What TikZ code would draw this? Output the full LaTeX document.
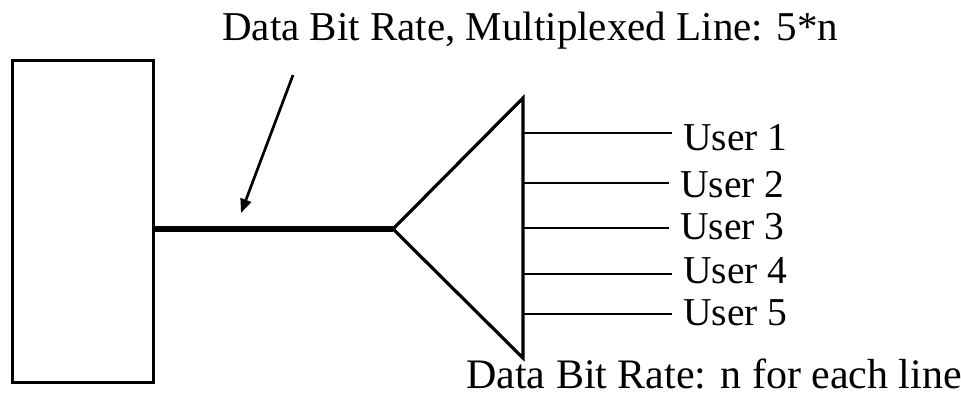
\documentclass[tikz,border=0pt]{standalone}
\usepackage{fontspec}
\setmainfont{Liberation Serif}
\usetikzlibrary{arrows.meta}

\tikzset{
  hostbox/.style={draw, line width=3.4pt, rectangle, inner sep=0pt,
    minimum width=141pt, minimum height=322pt},
  trunk/.style={line width=5.5pt},
  splitter/.style={line width=3.2pt, line join=miter},
  branch/.style={line width=2.8pt},
  userlbl/.style={anchor=base west, inner xsep=11pt, inner ysep=0pt,
    font=\fontsize{39.5}{46}\selectfont},
  caption/.style={inner sep=0pt, font=\fontsize{41}{48}\selectfont},
  pointer/.style={line width=2.7pt, -{Triangle[length=14pt,width=11pt]}}
}

\begin{document}
\begin{tikzpicture}[x=1pt,y=-1pt]
  \useasboundingbox (0,0) rectangle (961,396);

  % terminal equipment
  \node[hostbox] (host) at (83,221.5) {};

  % multiplexer outline
  \coordinate (apex) at (393,229);
  \coordinate (mtop) at (523,98);
  \coordinate (mbot) at (523,358);
  \draw[splitter] (apex) -- (mtop) -- (mbot) -- cycle;

  % multiplexed line
  \draw[trunk] (host.east |- apex) -- (apex);

  % user lines
  \coordinate (t1) at (523,133);
  \coordinate (t2) at (523,183);
  \coordinate (t3) at (523,228);
  \coordinate (t4) at (523,274);
  \coordinate (t5) at (523,314);
  \node[userlbl] (u1) at (672,150) {User 1};
  \node[userlbl] (u2) at (669,197) {User 2};
  \node[userlbl] (u3) at (669,239) {User 3};
  \node[userlbl] (u4) at (672,283) {User 4};
  \node[userlbl] (u5) at (672,325) {User 5};
  \draw[branch] (t1) -- (t1 -| u1.west);
  \draw[branch] (t2) -- (t2 -| u2.west);
  \draw[branch] (t3) -- (t3 -| u3.west);
  \draw[branch] (t4) -- (t4 -| u4.west);
  \draw[branch] (t5) -- (t5 -| u5.west);

  % captions
  \node[caption, anchor=base west] (muxrate) at (222,41)
    {Data Bit Rate, Multiplexed Line: 5*n};
  \node[caption, anchor=base west, font=\fontsize{42}{48}\selectfont] (userrate) at (466,388)
    {Data Bit Rate: n for each line};

  % pointer to the multiplexed line
  \coordinate (ptail) at (293,75);
  \coordinate (phead) at (241,213);
  \draw[pointer] (ptail) -- (phead);
\end{tikzpicture}
\end{document}
